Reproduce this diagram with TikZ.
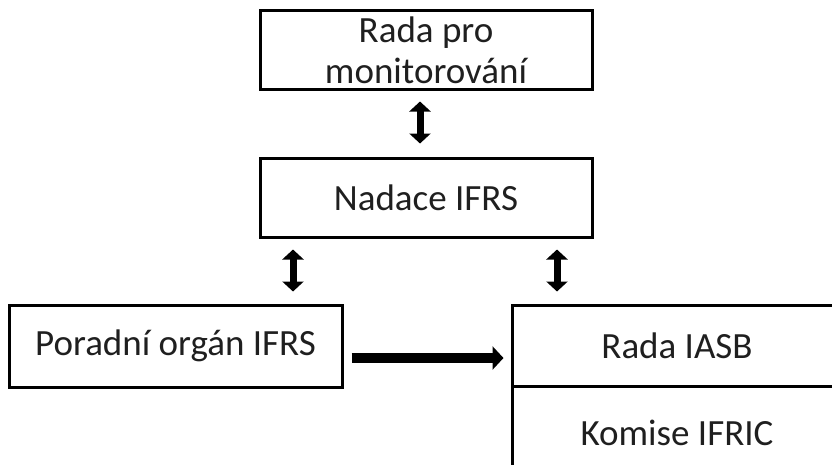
\documentclass[tikz,border=0pt]{standalone}
\usepackage{fontspec}
\setmainfont{Carlito}
\usetikzlibrary{arrows.meta,calc}
\begin{document}
\begin{tikzpicture}[x=1pt,y=-1pt,
  box/.style={draw, line width=3pt, rectangle, inner sep=0pt, align=center,
    font=\fontsize{37}{41}\selectfont, text=black!88},
  txt/.style={inner sep=0pt, align=center, font=\fontsize{37}{41}\selectfont, text=black!88},
  dbl/.style={line width=7pt, {Triangle[width=21pt,length=10pt]}-{Triangle[width=21pt,length=10pt]}},
  single/.style={line width=9.5pt, -{Triangle[width=23pt,length=11pt]}}]
\useasboundingbox (0,0) rectangle (832,464);
\clip (0,0) rectangle (832,464);
\node[box, minimum width=332pt, minimum height=79pt] (mon) at (426,49.5) {};
\node[txt] (montext) at ($(mon.center)+(0,0.5)$) {Rada pro\\monitorování};
\node[box, minimum width=332pt, minimum height=79pt] (nad) at (426,197.5) {Nadace IFRS};
\node[box, minimum width=333pt, minimum height=82pt] (por) at (175.5,346) {Poradní orgán IFRS};
\node[box, minimum width=330pt, minimum height=81pt] (iasb) at (677,345.5) {Rada IASB};
\node[box, minimum width=330pt, minimum height=94pt] (ifric) at (677,433) {Komise IFRIC};
\coordinate (xm) at (420,0);
\coordinate (xl) at (293,0);
\coordinate (xr) at (557,0);
\coordinate (ya) at (0,358);
\draw[dbl, shorten <=11pt, shorten >=13pt] (mon.south -| xm) -- (nad.north -| xm);
\draw[dbl, shorten <=11pt, shorten >=12pt] (nad.south -| xl) -- (por.north -| xl);
\draw[dbl, shorten <=11pt, shorten >=12pt] (nad.south -| xr) -- (iasb.north -| xr);
\draw[single, shorten <=8pt, shorten >=7pt] (por.east |- ya) -- (iasb.west |- ya);
\end{tikzpicture}
\end{document}
